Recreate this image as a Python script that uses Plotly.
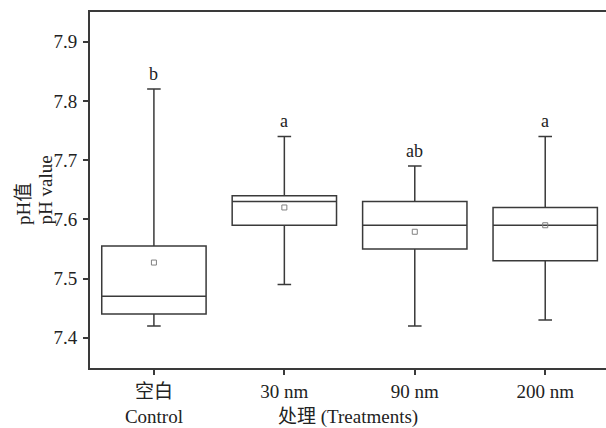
import plotly.graph_objects as go

categories = ["空白<br>Control", "30 nm", "90 nm", "200 nm"]
lower = [7.42, 7.49, 7.42, 7.43]
q1 = [7.44, 7.59, 7.55, 7.53]
median = [7.47, 7.63, 7.59, 7.59]
q3 = [7.555, 7.64, 7.63, 7.62]
upper = [7.82, 7.74, 7.69, 7.74]
mean = [7.527, 7.62, 7.579, 7.59]
letters = ["b", "a", "ab", "a"]
y_ticks = [7.4, 7.5, 7.6, 7.7, 7.8, 7.9]

FONT = "Liberation Serif, Times New Roman, Noto Sans CJK SC, serif"
LINE = "#3a3a3a"

fig = go.Figure()
fig.add_trace(go.Box(
    x=categories, q1=q1, median=median, q3=q3,
    lowerfence=lower, upperfence=upper,
    boxpoints=False, width=0.8, whiskerwidth=0.13,
    fillcolor="rgba(255,255,255,0)",
    line=dict(color=LINE, width=1.5),
    showlegend=False, hoverinfo="skip",
))
fig.add_trace(go.Scatter(
    x=categories, y=mean, mode="markers",
    marker=dict(symbol="square-open", size=5, color="#808080", line=dict(width=1, color="#808080")),
    showlegend=False, hoverinfo="skip",
))

for c, u, t in zip(categories, upper, letters):
    fig.add_annotation(x=c, y=u, text=t, showarrow=False, yanchor="bottom",
                       yshift=3, font=dict(family=FONT, size=18, color="#222"))

fig.add_annotation(xref="paper", yref="paper", x=0.5, y=-0.1376, text="处理 (Treatments)",
                   showarrow=False, xanchor="center", yanchor="middle",
                   font=dict(family=FONT, size=19, color="#222"))
fig.add_annotation(xref="paper", yref="paper", x=0, xshift=-67, y=0.396, text="pH值",
                   textangle=-90, showarrow=False, xanchor="center", yanchor="bottom",
                   font=dict(family=FONT, size=19, color="#222"))
fig.add_annotation(xref="paper", yref="paper", x=0, xshift=-44, y=0.396, text="pH value",
                   textangle=-90, showarrow=False, xanchor="center", yanchor="bottom",
                   font=dict(family=FONT, size=19, color="#222"))

fig.update_layout(
    width=606, height=428,
    margin=dict(l=90, r=0, t=12, b=60),
    paper_bgcolor="white", plot_bgcolor="white",
    font=dict(family=FONT, size=19, color="#222"),
)
fig.update_xaxes(
    type="category", range=[-0.49, 3.466],
    showline=True, linecolor=LINE, linewidth=2, mirror=True,
    ticks="outside", ticklen=5, tickwidth=2, tickcolor=LINE,
    showgrid=False, zeroline=False,
    tickfont=dict(family=FONT, size=19, color="#222"),
)
fig.update_yaxes(
    range=[7.349, 7.95], tickvals=y_ticks, tickformat=".1f",
    showline=True, linecolor=LINE, linewidth=2, mirror=False,
    ticks="outside", ticklen=5, tickwidth=2, tickcolor=LINE,
    showgrid=False, zeroline=False, ticklabelstandoff=2,
    tickfont=dict(family=FONT, size=19, color="#222"),
)

fig.write_html("out.html", config={"displayModeBar": False},
               post_script="document.body.style.margin='0';document.body.style.overflow='hidden';")
